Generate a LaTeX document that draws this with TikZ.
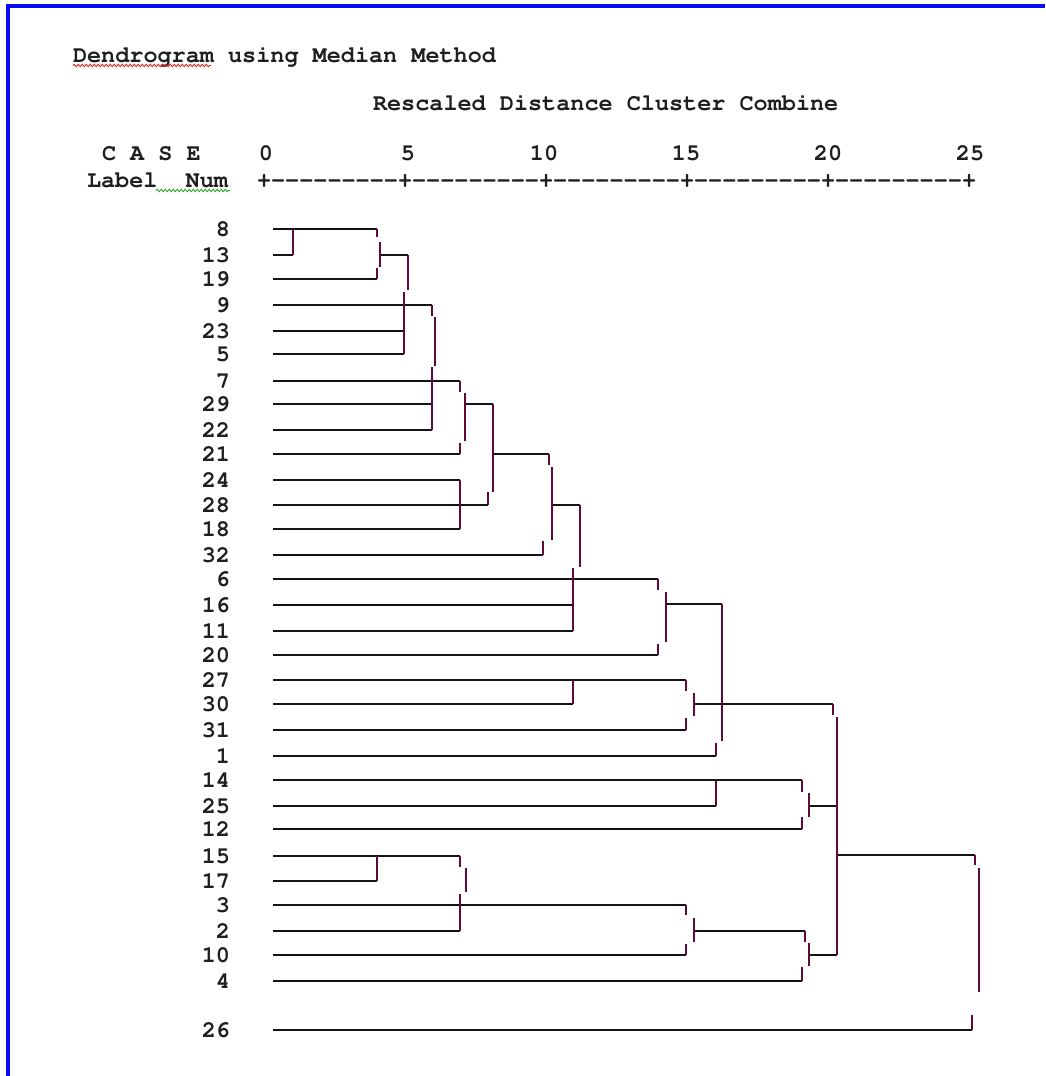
\documentclass[tikz,border=0pt]{standalone}
\usepackage[T1]{fontenc}
\usetikzlibrary{decorations.pathmorphing}
\definecolor{vcol}{RGB}{95,10,55}
\definecolor{hcol}{RGB}{20,20,20}
\definecolor{frame}{RGB}{10,10,250}
\definecolor{spellred}{RGB}{230,30,30}
\definecolor{spellgreen}{RGB}{30,170,30}
\newcommand{\hs}[3]{\draw[hl] (#1,#3) -- (#2,#3);}
\newcommand{\vs}[3]{\draw[vl] (#1,#2) -- (#1,#3);}
\newcommand{\cour}{\fontencoding{T1}\fontfamily{pcr}\fontseries{b}\fontshape{n}\fontsize{23.5}{28}\selectfont}
\newcommand{\dsh}{-{}-{}-{}-{}-{}-{}-{}-{}-{}}
\begin{document}
\begin{tikzpicture}[x=1pt,y=-1pt,
  txt/.style={font=\cour, text=black!88, inner sep=0pt, outer sep=0pt},
  leaf/.style={txt, anchor=base east},
  hl/.style={draw=hcol, line width=1.8pt},
  vl/.style={draw=vcol, line width=2.2pt},
  wavy/.style={decorate, decoration={snake, amplitude=1.3pt, segment length=4pt}, line width=0.8pt}]
\useasboundingbox (0,0) rectangle (1045,1076);
\fill[white] (0,0) rectangle (1045,1076);
% frame
\draw[frame, line width=4pt] (8,1076) -- (8,6) -- (1045,6);
% headers
\node[txt, anchor=base west] (title) at (73,62) {Dendrogram using Median Method};
\draw[spellred, wavy] (73,65.5) -- (211,65.5);
\node[txt, anchor=base west] (rdcc) at (373,110) {Rescaled Distance Cluster Combine};
\node[txt, anchor=base west] (case) at (102,160) {C A S E};
\node[txt, anchor=base west] (lblnum) at (87,187) {Label\ \ Num};
\draw[spellgreen, wavy] (156,190.5) -- (230,190.5);
\node[txt, anchor=base] (t0) at (266,160) {0};
\node[txt, anchor=base] (t5) at (408,160) {5};
\node[txt, anchor=base] (t10) at (544,160) {10};
\node[txt, anchor=base] (t15) at (686,160) {15};
\node[txt, anchor=base] (t20) at (828,160) {20};
\node[txt, anchor=base] (t25) at (970,160) {25};
\node[txt, anchor=base west] (axis) at (257,187) {+\dsh+\dsh+\dsh+\dsh+\dsh+};
% leaf labels
\foreach \lab/\yy in {8/229,13/255,19/279,9/305,23/331,5/354,7/381,29/404,22/430,21/454,24/480,28/505,18/529,32/555,6/579,16/605,11/631,20/655,27/680,30/704,31/730,1/756,14/780,25/806,12/829,15/856,17/881,3/905,2/931,10/955,4/981,26/1030}{
  \node[leaf] (l\lab) at (230,\yy+7) {\lab};
  \coordinate (s\lab) at (273,\yy);
}
% leaf horizontals
\foreach \lab/\xe in {8/377,13/293,19/377,9/432,23/404,5/404,7/460,29/432,22/432,21/460,24/460,28/488,18/460,32/543,6/658,16/573,11/573,20/658,27/686,30/573,31/686,1/716,14/802,25/716,12/802,15/460,17/377,3/686,2/460,10/686,4/802,26/972}{
  \draw[hl] (s\lab) -- (s\lab -| \xe,0);
}
% internal horizontals
\hs{380}{408}{255}
\hs{465}{493}{404}
\hs{493}{549}{454}
\hs{552}{580}{505}
\hs{666}{722}{604}
\hs{694}{833}{704}
\hs{809}{837}{806}
\hs{837}{975}{855}
\hs{694}{805}{931}
\hs{809}{837}{955}
% verticals
\vs{293}{229}{255}
\vs{377}{229}{237}
\vs{377}{268}{279}
\vs{380}{242}{267}
\vs{408}{255}{290}
\vs{404}{292}{354}
\vs{432}{305}{316}
\vs{435}{317}{366}
\vs{432}{367}{430}
\vs{460}{381}{392}
\vs{465}{393}{441}
\vs{460}{443}{454}
\vs{460}{480}{529}
\vs{493}{404}{492}
\vs{488}{492}{505}
\vs{549}{454}{465}
\vs{552}{467}{540}
\vs{543}{541}{555}
\vs{580}{505}{567}
\vs{573}{568}{631}
\vs{658}{579}{590}
\vs{666}{592}{642}
\vs{658}{644}{655}
\vs{573}{680}{704}
\vs{686}{680}{691}
\vs{694}{693}{716}
\vs{686}{718}{730}
\vs{722}{604}{741}
\vs{716}{743}{756}
\vs{716}{780}{806}
\vs{802}{780}{792}
\vs{809}{793}{817}
\vs{802}{817}{829}
\vs{833}{704}{715}
\vs{837}{717}{955}
\vs{377}{856}{881}
\vs{460}{856}{867}
\vs{466}{868}{892}
\vs{460}{894}{931}
\vs{686}{905}{915}
\vs{694}{918}{942}
\vs{686}{944}{955}
\vs{805}{931}{942}
\vs{809}{943}{966}
\vs{802}{967}{981}
\vs{975}{855}{865}
\vs{979}{868}{992}
\vs{972}{1015}{1030}
\end{tikzpicture}
\end{document}
